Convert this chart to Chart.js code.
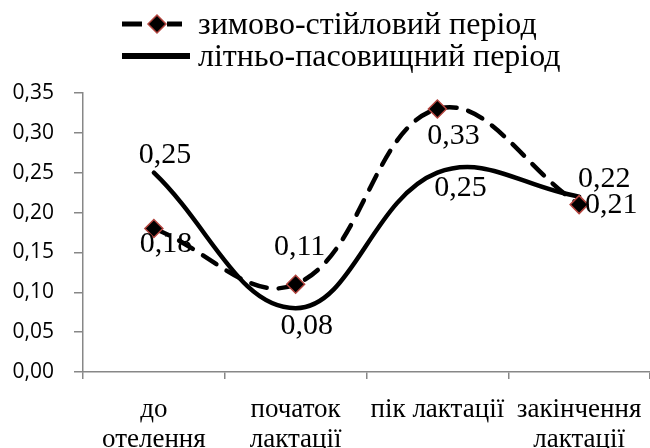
<!DOCTYPE html>
<html>
<head>
<meta charset="utf-8">
<script src="https://cdn.jsdelivr.net/npm/chart.js@4.4.1/dist/chart.umd.min.js"></script>
<style>
  html, body { margin: 0; padding: 0; background: #fff; overflow: hidden; }
  #wrap { width: 650px; height: 448px; }
</style>
</head>
<body>
<div id="wrap"><canvas id="chart"></canvas></div>
<script>
// Stages of the lactation cycle
const stages = [['до', 'отелення'], ['початок', 'лактації'], ['пік лактації'], ['закінчення', 'лактації']];
const winterValues = [0.18, 0.11, 0.33, 0.21];
const summerValues = [0.25, 0.08, 0.25, 0.22];
const yTicks = [0, 0.05, 0.10, 0.15, 0.20, 0.25, 0.30, 0.35];

const seriesNames = ['зимово-стійловий період', 'літньо-пасовищний період'];

const serif = '"Liberation Serif", "Times New Roman", serif';
const axisGrey = '#878787';
const markerEdge = '#b3443e';

// where each value label sits relative to its point
const labelOffsets = [
    [[12, 16], [4, -37], [16, 27], [32, 1]],
    [[11, -18], [11, 18], [23, 15], [25, -18]]
];

const fmt = v => v.toFixed(2).replace('.', ',');

const valueLabels = {
    id: 'valueLabels',
    afterDatasetsDraw(chart) {
        const ctx = chart.ctx;
        ctx.save();
        ctx.font = '30px ' + serif;
        ctx.fillStyle = '#000';
        ctx.textAlign = 'center';
        ctx.textBaseline = 'middle';
        chart.data.datasets.forEach((ds, di) => {
            chart.getDatasetMeta(di).data.forEach((pt, i) => {
                const [dx, dy] = labelOffsets[di][i];
                ctx.fillText(fmt(ds.data[i]), pt.x + dx, pt.y + dy);
            });
        });
        ctx.restore();
    }
};

const topLegend = {
    id: 'topLegend',
    afterDraw(chart) {
        const ctx = chart.ctx;
        const ds = chart.data.datasets;
        ctx.save();
        ctx.font = '32px ' + serif;
        ctx.textBaseline = 'middle';
        ctx.strokeStyle = '#000';
        ctx.lineCap = 'butt';

        // row 1: dashed line with diamond
        ctx.lineWidth = 5;
        ctx.setLineDash([20, 25]);
        ctx.beginPath();
        ctx.moveTo(122, 24);
        ctx.lineTo(182, 24);
        ctx.stroke();
        ctx.setLineDash([]);
        ctx.fillStyle = ds[0].pointBackgroundColor;
        ctx.strokeStyle = ds[0].pointBorderColor;
        ctx.lineWidth = 1.5;
        Chart.helpers.drawPoint(ctx, { pointStyle: 'rectRot', radius: 9, borderWidth: 1.5, rotation: 0 }, 157, 24);
        ctx.fillStyle = '#000';
        ctx.fillText(ds[0].label, 198, 26);

        // row 2: solid line
        ctx.strokeStyle = '#000';
        ctx.lineWidth = 6;
        ctx.beginPath();
        ctx.moveTo(122, 56);
        ctx.lineTo(190, 56);
        ctx.stroke();
        ctx.fillText(ds[1].label, 198, 58);
        ctx.restore();
    }
};

new Chart(document.getElementById('chart'), {
    type: 'line',
    data: {
        labels: stages,
        datasets: [
            {
                label: seriesNames[0],
                data: winterValues,
                borderColor: '#000',
                borderWidth: 4.5,
                borderDash: [16, 12],
                borderCapStyle: 'round',
                tension: 0.4,
                pointStyle: 'rectRot',
                pointRadius: 9,
                pointBorderWidth: 1.5,
                pointBackgroundColor: '#000',
                pointBorderColor: markerEdge
            },
            {
                label: seriesNames[1],
                data: summerValues,
                borderColor: '#000',
                borderWidth: 4.5,
                borderCapStyle: 'round',
                tension: 0.4,
                pointRadius: 0
            }
        ]
    },
    options: {
        responsive: true,
        maintainAspectRatio: false,
        animation: false,
        layout: { autoPadding: false, padding: { top: 93, left: 0, right: 0, bottom: 0 } },
        plugins: { legend: { display: false }, tooltip: { enabled: false } },
        scales: {
            x: {
                offset: true,
                // the plot runs to the right edge of the canvas
                afterFit: s => { s.height = 76; s.paddingLeft = 0; s.paddingRight = 0; },
                grid: { offset: true, drawOnChartArea: false, color: axisGrey, tickLength: 7, lineWidth: 1.5 },
                border: { color: axisGrey, width: 1.5 },
                ticks: {
                    color: '#000',
                    font: { family: serif, size: 27, lineHeight: 1.1 },
                    padding: 16, maxRotation: 0, autoSkip: false
                }
            },
            y: {
                min: 0,
                max: 0.35,
                afterFit: s => { s.width = 83; s.paddingTop = 0; s.paddingBottom = 0; },
                afterBuildTicks: axis => { axis.ticks = yTicks.map(v => ({ value: v })); },
                grid: { drawOnChartArea: false, color: axisGrey, tickLength: 9, lineWidth: 1.5 },
                border: { color: axisGrey, width: 1.5 },
                ticks: {
                    color: '#000',
                    font: { family: '"Open Sans", sans-serif', size: 21 },
                    padding: 20,
                    callback: v => fmt(v)
                }
            }
        }
    },
    plugins: [valueLabels, topLegend]
});
</script>
</body>
</html>
